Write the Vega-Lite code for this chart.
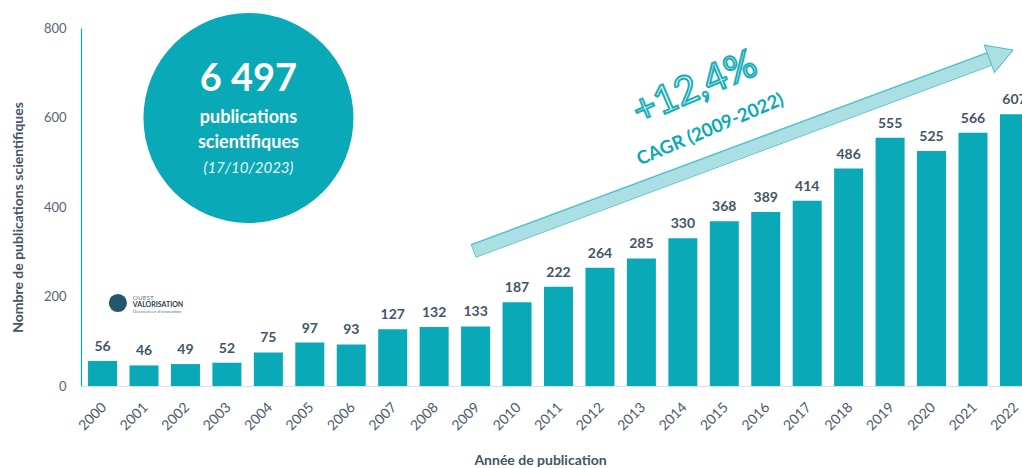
{
  "$schema": "https://vega.github.io/schema/vega-lite/v6.json",
  "width": 941,
  "height": 358,
  "autosize": "none",
  "padding": {"left": 81, "top": 28, "right": 0, "bottom": 82},
  "background": "white",
  "config": {"view": {"stroke": null}, "font": "Lato"},
  "layer": [
    {
      "data": {"values": [
        {"year": "2000", "count": 56}, {"year": "2001", "count": 46}, {"year": "2002", "count": 49},
        {"year": "2003", "count": 52}, {"year": "2004", "count": 75}, {"year": "2005", "count": 97},
        {"year": "2006", "count": 93}, {"year": "2007", "count": 127}, {"year": "2008", "count": 132},
        {"year": "2009", "count": 133}, {"year": "2010", "count": 187}, {"year": "2011", "count": 222},
        {"year": "2012", "count": 264}, {"year": "2013", "count": 285}, {"year": "2014", "count": 330},
        {"year": "2015", "count": 368}, {"year": "2016", "count": 389}, {"year": "2017", "count": 414},
        {"year": "2018", "count": 486}, {"year": "2019", "count": 555}, {"year": "2020", "count": 525},
        {"year": "2021", "count": 566}, {"year": "2022", "count": 607}
      ]},
      "encoding": {
        "x": {
          "field": "year", "type": "ordinal",
          "scale": {"type": "band", "range": [0, 955], "paddingInner": 0.3, "paddingOuter": 0.17},
          "axis": {
            "title": "Année de publication",
            "titleFont": "Lato", "titleFontSize": 14, "titleFontWeight": "bold", "titleColor": "#44546A",
            "titleX": 459, "titleY": 74, "titleAlign": "center", "titleBaseline": "middle",
            "labelAngle": -45, "labelFontSize": 14, "labelColor": "#4d5a6e", "labelPadding": 14, "labelOffset": -3,
            "ticks": false, "tickSize": 0, "domainColor": "#dcdfe4", "domainWidth": 1, "grid": false
          }
        },
        "y": {
          "field": "count", "type": "quantitative",
          "scale": {"domain": [0, 800], "nice": false},
          "axis": {
            "title": "Nombre de publications scientifiques",
            "titleFont": "Lato", "titleFontSize": 14, "titleFontWeight": "bold", "titleColor": "#44546A",
            "titleX": -63, "titleY": 189, "titleAngle": -90, "titleAlign": "center", "titleBaseline": "middle",
            "values": [0, 200, 400, 600, 800],
            "labelFontSize": 13, "labelColor": "#5a6474", "labelPadding": 15,
            "ticks": false, "tickSize": 0, "grid": false,
            "domainColor": "#0AA9B8", "domainWidth": 1.2
          }
        }
      },
      "layer": [
        {"mark": {"type": "bar", "color": "#0AA9B8"}},
        {
          "mark": {"type": "text", "baseline": "alphabetic", "dy": -10, "fontSize": 14, "fontWeight": "bold", "color": "#44546A"},
          "encoding": {"text": {"field": "count", "type": "quantitative"}}
        }
      ]
    },
    {
      "layer": [
        {
          "data": {"values": [{"x": 2003.52, "y": 599}]},
          "mark": {"type": "point", "shape": "circle", "filled": true, "size": 44100, "color": "#0AA9B8", "opacity": 1},
          "encoding": {
            "x": {"field": "x", "type": "quantitative", "scale": {"domain": [1999.48, 2022.52], "range": [0, 955], "nice": false, "zero": false}, "axis": null},
            "y": {"field": "y", "type": "quantitative", "scale": {"domain": [0, 800]}, "axis": null}
          }
        },
        {
          "data": {"values": [{"x": 2003.52, "y": 684, "label": "6 497"}]},
          "mark": {"type": "text", "fontSize": 38, "fontWeight": "bold", "color": "white", "baseline": "middle", "align": "center"},
          "encoding": {
            "x": {"field": "x", "type": "quantitative", "scale": {"domain": [1999.48, 2022.52], "range": [0, 955], "nice": false, "zero": false}, "axis": null},
            "y": {"field": "y", "type": "quantitative", "scale": {"domain": [0, 800]}, "axis": null},
            "text": {"field": "label"}
          }
        },
        {
          "data": {"values": [{"x": 2003.52, "y": 599, "label": "publications"}, {"x": 2003.52, "y": 543, "label": "scientifiques"}]},
          "mark": {"type": "text", "fontSize": 18, "fontWeight": "bold", "color": "white", "baseline": "middle", "align": "center"},
          "encoding": {
            "x": {"field": "x", "type": "quantitative", "scale": {"domain": [1999.48, 2022.52], "range": [0, 955], "nice": false, "zero": false}, "axis": null},
            "y": {"field": "y", "type": "quantitative", "scale": {"domain": [0, 800]}, "axis": null},
            "text": {"field": "label"}
          }
        },
        {
          "data": {"values": [{"x": 2003.52, "y": 487, "label": "(17/10/2023)"}]},
          "mark": {"type": "text", "fontSize": 15, "fontStyle": "italic", "color": "white", "opacity": 0.9, "baseline": "middle", "align": "center"},
          "encoding": {
            "x": {"field": "x", "type": "quantitative", "scale": {"domain": [1999.48, 2022.52], "range": [0, 955], "nice": false, "zero": false}, "axis": null},
            "y": {"field": "y", "type": "quantitative", "scale": {"domain": [0, 800]}, "axis": null},
            "text": {"field": "label"}
          }
        },
        {
          "data": {"values": [{"x": 2008.94, "y": 301.7, "x2": 2021.39, "y2": 730.7}]},
          "mark": {"type": "rule", "color": "#4fbfc8", "strokeWidth": 14.5, "strokeCap": "butt"},
          "encoding": {
            "x": {"field": "x", "type": "quantitative", "scale": {"domain": [1999.48, 2022.52], "range": [0, 955], "nice": false, "zero": false}, "axis": null},
            "y": {"field": "y", "type": "quantitative", "scale": {"domain": [0, 800]}, "axis": null},
            "x2": {"field": "x2"},
            "y2": {"field": "y2"}
          }
        },
        {
          "data": {"values": [{"x": 2008.96, "y": 301.7, "x2": 2021.41, "y2": 730.7}]},
          "mark": {"type": "rule", "color": "#aadfe4", "strokeWidth": 12.5, "strokeCap": "butt"},
          "encoding": {
            "x": {"field": "x", "type": "quantitative", "scale": {"domain": [1999.48, 2022.52], "range": [0, 955], "nice": false, "zero": false}, "axis": null},
            "y": {"field": "y", "type": "quantitative", "scale": {"domain": [0, 800]}, "axis": null},
            "x2": {"field": "x2"},
            "y2": {"field": "y2"}
          }
        },
        {
          "data": {"values": [{"x": 2021.68, "y": 741}]},
          "mark": {"type": "point", "shape": "triangle-right", "filled": true, "size": 850, "angle": -20.4, "fill": "#aadfe4", "stroke": "#4fbfc8", "strokeWidth": 1, "opacity": 1},
          "encoding": {
            "x": {"field": "x", "type": "quantitative", "scale": {"domain": [1999.48, 2022.52], "range": [0, 955], "nice": false, "zero": false}, "axis": null},
            "y": {"field": "y", "type": "quantitative", "scale": {"domain": [0, 800]}, "axis": null}
          }
        },
        {
          "data": {"values": [{"x": 2014.29, "y": 666, "label": "+12,4%"}]},
          "mark": {"type": "text", "fontSize": 39, "angle": -23, "fill": "white", "stroke": "#19AEB9", "strokeWidth": 2, "baseline": "middle", "align": "center"},
          "encoding": {
            "x": {"field": "x", "type": "quantitative", "scale": {"domain": [1999.48, 2022.52], "range": [0, 955], "nice": false, "zero": false}, "axis": null},
            "y": {"field": "y", "type": "quantitative", "scale": {"domain": [0, 800]}, "axis": null},
            "text": {"field": "label"}
          }
        },
        {
          "data": {"values": [{"x": 2014.66, "y": 574, "label": "CAGR (2009-2022)"}]},
          "mark": {"type": "text", "fontSize": 18.5, "fontWeight": "bold", "angle": -23, "color": "#0AA9B8", "baseline": "middle", "align": "center"},
          "encoding": {
            "x": {"field": "x", "type": "quantitative", "scale": {"domain": [1999.48, 2022.52], "range": [0, 955], "nice": false, "zero": false}, "axis": null},
            "y": {"field": "y", "type": "quantitative", "scale": {"domain": [0, 800]}, "axis": null},
            "text": {"field": "label"}
          }
        },
        {
          "data": {"values": [{"x": 2000.37, "y": 185.5}]},
          "mark": {"type": "point", "shape": "circle", "filled": true, "size": 330, "color": "#24566a", "opacity": 1},
          "encoding": {
            "x": {"field": "x", "type": "quantitative", "scale": {"domain": [1999.48, 2022.52], "range": [0, 955], "nice": false, "zero": false}, "axis": null},
            "y": {"field": "y", "type": "quantitative", "scale": {"domain": [0, 800]}, "axis": null}
          }
        },
        {
          "data": {"values": [{"x": 2000.73, "y": 196.6, "label": "OUEST"}]},
          "mark": {"type": "text", "fontSize": 6.5, "color": "#6b7785", "align": "left", "baseline": "middle"},
          "encoding": {
            "x": {"field": "x", "type": "quantitative", "scale": {"domain": [1999.48, 2022.52], "range": [0, 955], "nice": false, "zero": false}, "axis": null},
            "y": {"field": "y", "type": "quantitative", "scale": {"domain": [0, 800]}, "axis": null},
            "text": {"field": "label"}
          }
        },
        {
          "data": {"values": [{"x": 2000.73, "y": 181, "label": "VALORISATION"}]},
          "mark": {"type": "text", "fontSize": 7, "fontWeight": "bold", "color": "#2d3e4e", "align": "left", "baseline": "middle"},
          "encoding": {
            "x": {"field": "x", "type": "quantitative", "scale": {"domain": [1999.48, 2022.52], "range": [0, 955], "nice": false, "zero": false}, "axis": null},
            "y": {"field": "y", "type": "quantitative", "scale": {"domain": [0, 800]}, "axis": null},
            "text": {"field": "label"}
          }
        },
        {
          "data": {"values": [{"x": 2000.73, "y": 165.4, "label": "Découvreur d'innovation"}]},
          "mark": {"type": "text", "fontSize": 4.5, "color": "#6b7785", "align": "left", "baseline": "middle"},
          "encoding": {
            "x": {"field": "x", "type": "quantitative", "scale": {"domain": [1999.48, 2022.52], "range": [0, 955], "nice": false, "zero": false}, "axis": null},
            "y": {"field": "y", "type": "quantitative", "scale": {"domain": [0, 800]}, "axis": null},
            "text": {"field": "label"}
          }
        }
      ]
    }
  ],
  "resolve": {"scale": {"x": "independent"}, "axis": {"x": "independent", "y": "independent"}}
}
